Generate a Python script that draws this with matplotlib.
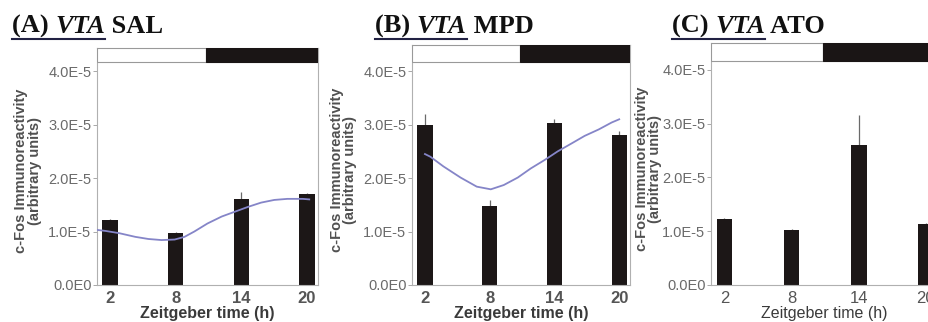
import matplotlib
matplotlib.use("Agg")
import matplotlib.pyplot as plt
from matplotlib.patches import Rectangle
from matplotlib.lines import Line2D

plt.rcParams['font.family'] = ['Liberation Sans', 'DejaVu Sans']

# data
zt = [2, 8, 14, 20]
sal_mean = [1.21e-5, 0.97e-5, 1.61e-5, 1.70e-5]
sal_err = [0.03e-5, 0.02e-5, 0.12e-5, 0.02e-5]
mpd_mean = [2.99e-5, 1.48e-5, 3.04e-5, 2.80e-5]
mpd_err = [0.21e-5, 0.11e-5, 0.06e-5, 0.08e-5]
ato_mean = [1.22e-5, 1.02e-5, 2.60e-5, 1.13e-5]
ato_err = [0.03e-5, 0.03e-5, 0.56e-5, 0.03e-5]

# fitted curves
sal_fit_x = [0.8, 1.6, 2.8, 4.3, 5.5, 6.7, 7.9, 8.8, 9.7, 10.9, 12.2, 13.4,
             14.6, 15.8, 17.0, 18.2, 19.6, 20.2]
sal_fit_y = [1.03e-5, 1.01e-5, 0.97e-5, 0.90e-5, 0.86e-5, 0.84e-5, 0.85e-5,
             0.90e-5, 1.00e-5, 1.15e-5, 1.28e-5, 1.37e-5, 1.46e-5, 1.54e-5,
             1.59e-5, 1.61e-5, 1.61e-5, 1.60e-5]
mpd_fit_x = [2.0, 2.5, 3.7, 5.3, 6.8, 8.1, 9.3, 10.6, 11.8, 13.1, 14.3,
             15.6, 16.8, 18.1, 19.3, 20.0]
mpd_fit_y = [2.45e-5, 2.40e-5, 2.22e-5, 2.01e-5, 1.84e-5, 1.79e-5, 1.87e-5,
             2.01e-5, 2.18e-5, 2.34e-5, 2.50e-5, 2.65e-5, 2.79e-5, 2.91e-5,
             3.04e-5, 3.10e-5]

yticks = [0, 1e-5, 2e-5, 3e-5, 4e-5]
ytick_labels = ["0.0E0", "1.0E-5", "2.0E-5", "3.0E-5", "4.0E-5"]
lights_off = 10.8

W, H = 929, 322
fig = plt.figure(figsize=(W / 100, H / 100), dpi=100)
fig.patch.set_facecolor('white')


def px_rect(left, top, right, bottom):
    return [left / W, (H - bottom) / H, (right - left) / W, (bottom - top) / H]


panels = [
    dict(rect=px_rect(97, 48, 318, 285), ytop=4.43e-5, mean=sal_mean, err=sal_err,
         fit=(sal_fit_x, sal_fit_y), bold=True, title=("(A) ", "VTA", " SAL"), tx=12,
         ylab_x=-0.25),
    dict(rect=px_rect(412, 45, 630, 285), ytop=4.49e-5, mean=mpd_mean, err=mpd_err,
         fit=(mpd_fit_x, mpd_fit_y), bold=True, title=("(B) ", "VTA", " MPD"), tx=375,
         ylab_x=-0.25),
    dict(rect=px_rect(711, 43, 937, 285), ytop=4.50e-5, mean=ato_mean, err=ato_err,
         fit=None, bold=False, title=("(C) ", "VTA", " ATO"), tx=672,
         ylab_x=-0.215),
]

grey = '#9a9a9a'
for p in panels:
    ax = fig.add_axes(p['rect'])
    ax.set_xlim(0.8, 21.0)
    ax.set_ylim(0, p['ytop'])
    ax.bar(zt, p['mean'], width=1.4, color='#1c1717', zorder=2)
    ax.errorbar(zt, p['mean'], yerr=[[0] * 4, p['err']], fmt='none',
                ecolor='#6a6a6a', elinewidth=0.9, capsize=0, zorder=1)
    if p['fit'] is not None:
        ax.plot(p['fit'][0], p['fit'][1], color='#8585c8', lw=1.3, zorder=3)
    # light/dark bar
    ax.add_patch(Rectangle((0.8, 4.17e-5), lights_off - 0.8, p['ytop'] - 4.17e-5,
                           facecolor='white', edgecolor='#999999', lw=0.8, zorder=4))
    ax.add_patch(Rectangle((lights_off, 4.17e-5), 21.0 - lights_off, p['ytop'] - 4.17e-5,
                           facecolor='#1a1515', edgecolor='#1a1515', lw=0.8, zorder=4))
    for s in ax.spines.values():
        s.set_color('#b0b0b0')
        s.set_linewidth(0.8)
    ax.set_yticks(yticks)
    ax.set_yticklabels(ytick_labels)
    ax.set_xticks(zt)
    ax.tick_params(axis='y', length=3, width=0.6, color=grey, pad=1,
                   labelsize=10.5, labelcolor='#6a6a6a')
    ax.tick_params(axis='x', length=0, pad=4, labelsize=12, labelcolor='#555555')
    w = 'bold' if p['bold'] else 'normal'
    for lbl in ax.get_xticklabels():
        lbl.set_fontweight(w)
    ax.set_xlabel("Zeitgeber time (h)", fontsize=11.5, fontweight=w,
                  color='#3a3a3a', labelpad=0)
    ax.set_ylabel("c-Fos Immunoreactivity\n(arbitrary units)", fontsize=10.5,
                  fontweight='bold', color='#505050', linespacing=0.95)
    ax.yaxis.set_label_coords(p['ylab_x'], 0.48)

# titles with underline on "(X) VTA"
fig.canvas.draw()
r = fig.canvas.get_renderer()
for p in panels:
    parts = p['title']
    x = p['tx']
    yb = H - 33
    t1 = fig.text(x / W, yb / H, parts[0], fontsize=19, fontweight='bold',
                  family='Liberation Serif', va='baseline', color='#111111')
    e1 = t1.get_window_extent(r)
    t2 = fig.text(e1.x1 / W, yb / H, parts[1], fontsize=19, fontweight='bold',
                  style='italic', family='Liberation Serif', va='baseline', color='#111111')
    e2 = t2.get_window_extent(r)
    t3 = fig.text(e2.x1 / W, yb / H, parts[2], fontsize=19, fontweight='bold',
                  family='Liberation Serif', va='baseline', color='#111111')
    fig.add_artist(Line2D([x / W, e2.x1 / W], [(yb - 6) / H, (yb - 6) / H],
                          color='#222244', lw=1.5))

fig.savefig("out.png", dpi=100, facecolor='white')
